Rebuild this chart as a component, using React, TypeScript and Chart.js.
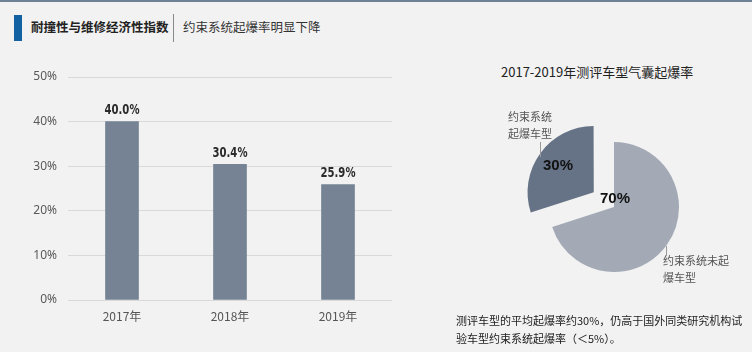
import React, { useEffect, useRef } from "react";
import { Chart, registerables } from "chart.js";

Chart.register(...registerables);

const years = ["2017年", "2018年", "2019年"];
const rates = [40.0, 30.4, 25.9];
const yTicks = [0, 10, 20, 30, 40, 50];

const pieLabels = ["约束系统未起爆车型", "约束系统起爆车型"];
const pieValues = [70, 30];

const BAR_COLOR = "#758394";
const PIE_COLORS = ["#a3aab5", "#667386"];
const CJK = "'Noto Sans CJK SC', 'Noto Sans', sans-serif";

export default function App() {
  const barRef = useRef<HTMLCanvasElement>(null);
  const pieRef = useRef<HTMLCanvasElement>(null);

  useEffect(() => {
    const barLabelPlugin = {
      id: "barLabels",
      afterDatasetsDraw(chart: any) {
        const ctx = chart.ctx;
        const meta = chart.getDatasetMeta(0);
        meta.data.forEach((bar: any, i: number) => {
          ctx.save();
          ctx.font = "bold 14px 'DejaVu Sans', sans-serif";
          ctx.fillStyle = "#2b2b2b";
          ctx.textAlign = "center";
          ctx.textBaseline = "bottom";
          ctx.translate(bar.x, bar.y - 4);
          ctx.scale(0.72, 1);
          ctx.fillText(rates[i].toFixed(1) + "%", 0, 0);
          ctx.restore();
        });
      },
    };

    const bar = new Chart(barRef.current!, {
      type: "bar",
      data: {
        labels: years,
        datasets: [
          {
            data: rates,
            backgroundColor: BAR_COLOR,
            barThickness: 33,
          },
        ],
      },
      options: {
        animation: false,
        responsive: false,
        maintainAspectRatio: false,
        layout: { padding: { top: 77, right: 28, left: 0, bottom: 0 } },
        plugins: { legend: { display: false }, tooltip: { enabled: false } },
        scales: {
          x: {
            grid: { display: false, drawTicks: false },
            border: { display: false },
            ticks: {
              padding: 9,
              color: "#555",
              font: { size: 12, family: CJK },
            },
            afterFit(scale: any) {
              scale.height = 52;
            },
          },
          y: {
            min: 0,
            max: 50,
            afterBuildTicks(scale: any) {
              scale.ticks = yTicks.map((v) => ({ value: v }));
            },
            grid: { color: "#d9d9d9", lineWidth: 1, drawTicks: false },
            border: { display: false },
            ticks: {
              padding: 11,
              color: "#595959",
              font: { size: 12, family: "'Noto Sans', sans-serif" },
              callback: (v: any) => v + "%",
            },
            afterFit(scale: any) {
              scale.width = 68;
            },
          },
        },
      },
      plugins: [barLabelPlugin],
    });

    const pieLabelPlugin = {
      id: "pieLabels",
      afterDatasetsDraw(chart: any) {
        const ctx = chart.ctx;
        const meta = chart.getDatasetMeta(0);
        ctx.save();
        ctx.font = "bold 15px 'Liberation Sans', Arial, sans-serif";
        ctx.fillStyle = "#111";
        ctx.textAlign = "center";
        ctx.textBaseline = "middle";
        meta.data.forEach((arc: any, i: number) => {
          const mid = (arc.startAngle + arc.endAngle) / 2;
          const off = (arc.options.offset || 0) / 4;
          let x: number, y: number;
          if (i === 0) {
            x = arc.x + 1;
            y = arc.y - 8;
          } else {
            const d = off + arc.outerRadius * 0.68;
            x = arc.x + Math.cos(mid) * d;
            y = arc.y + Math.sin(mid) * d;
          }
          ctx.fillText(pieValues[i] + "%", x, y);
        });
        ctx.restore();
      },
    };

    const pie = new Chart(pieRef.current!, {
      type: "pie",
      data: {
        labels: pieLabels,
        datasets: [
          {
            data: pieValues,
            backgroundColor: PIE_COLORS,
            borderWidth: 0,
            offset: [0, 100],
          },
        ],
      },
      options: {
        animation: false,
        responsive: false,
        maintainAspectRatio: false,
        radius: 65,
        plugins: { legend: { display: false }, tooltip: { enabled: false } },
      } as any,
      plugins: [pieLabelPlugin],
    });

    return () => {
      bar.destroy();
      pie.destroy();
    };
  }, []);

  const abs = (s: React.CSSProperties): React.CSSProperties => ({ position: "absolute", ...s });

  return (
    <div
      style={{
        position: "fixed",
        left: 0,
        top: 0,
        width: 752,
        height: 352,
        background: "#f2f2f2",
        overflow: "hidden",
        fontFamily: CJK,
      }}
    >
      <div style={abs({ left: 0, top: 0, width: 752, height: 2, background: "#6e8094" })} />
      <div style={abs({ left: 14, top: 15, width: 8, height: 26, background: "#1262a3" })} />
      <div
        style={abs({
          left: 31,
          top: 18,
          fontSize: 12.5,
          fontWeight: 700,
          color: "#222",
          lineHeight: "18px",
          whiteSpace: "nowrap",
        })}
      >
        耐撞性与维修经济性指数
      </div>
      <div style={abs({ left: 173, top: 14, width: 1, height: 28, background: "#8a8a8a" })} />
      <div
        style={abs({
          left: 183,
          top: 18,
          fontSize: 12.5,
          color: "#333",
          lineHeight: "18px",
          whiteSpace: "nowrap",
        })}
      >
        约束系统起爆率明显下降
      </div>

      <canvas ref={barRef} width={420} height={352} style={abs({ left: 0, top: 0, width: 420, height: 352 })} />
      <canvas ref={pieRef} width={240} height={240} style={abs({ left: 494, top: 87, width: 240, height: 240 })} />

      <div
        style={abs({
          left: 501,
          top: 62,
          fontSize: 13,
          color: "#222",
          lineHeight: "20px",
          whiteSpace: "nowrap",
        })}
      >
        2017-2019年测评车型气囊起爆率
      </div>

      <div style={abs({ left: 508, top: 108, fontSize: 11, color: "#555", lineHeight: "17px" })}>
        约束系统
        <br />
        起爆车型
      </div>
      <div style={abs({ left: 540, top: 142, width: 1, height: 15, background: "#9a9a9a" })} />

      <div style={abs({ left: 663, top: 252, fontSize: 11, color: "#555", lineHeight: "17px", whiteSpace: "nowrap" })}>
        约束系统未起
        <br />
        爆车型
      </div>
      <div style={abs({ left: 666, top: 246, width: 1, height: 10, background: "#9a9a9a" })} />

      <div
        style={abs({
          left: 456,
          top: 311,
          fontSize: 11,
          color: "#222",
          lineHeight: "18px",
          whiteSpace: "nowrap",
        })}
      >
        测评车型的平均起爆率约30%，仍高于国外同类研究机构试
        <br />
        验车型约束系统起爆率（＜5%）。
      </div>
    </div>
  );
}
